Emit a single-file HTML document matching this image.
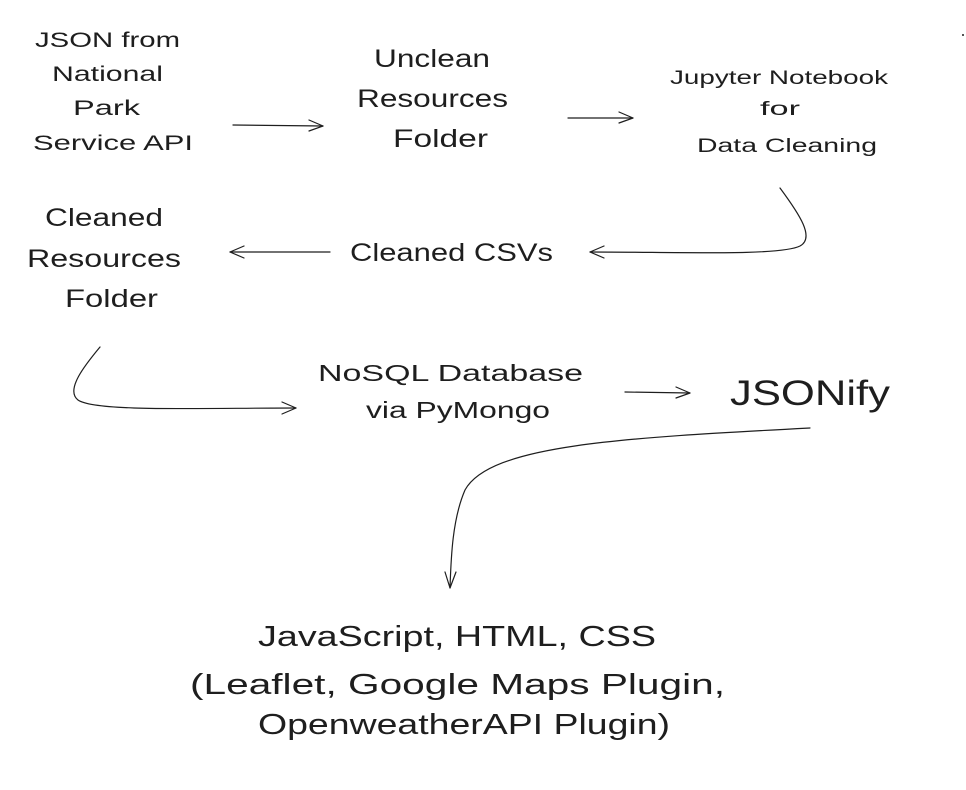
<!DOCTYPE html>
<html><head><meta charset="utf-8"><style>
html,body{margin:0;padding:0;background:#fff;}
svg{display:block;}
text{font-family:"Liberation Sans","DejaVu Sans",sans-serif;fill:#1e1e1e;}
</style></head><body>
<svg width="966" height="790" viewBox="0 0 966 790" xmlns="http://www.w3.org/2000/svg">
<g fill="none" stroke="#1e1e1e" stroke-width="1.2" stroke-linecap="round">
<path d="M233,125 L323,126"/><path d="M323,126 L309,120 M323,126 L309,131"/>
<path d="M568,118 L633,118"/><path d="M633,118 L619,112 M633,118 L619,123"/>
<path d="M780,188 C800,215 815,238 800,246 C780,256 680,252 590,252"/><path d="M590,252 L604,246 M590,252 L604,258"/>
<path d="M330,252 L230,252"/><path d="M230,252 L244,246 M230,252 L244,258"/>
<path d="M100,347 C85,365 65,390 78,400 C95,412 200,408 296,408"/><path d="M296,408 L282,402 M296,408 L282,414"/>
<path d="M625,392 L690,393"/><path d="M690,393 L676,387 M690,393 L676,398"/>
<path d="M810,428 C620,438 490,445 465,490 C452,520 451,560 450,588"/><path d="M450,588 L445,572 M450,588 L456,572"/>
</g>
<circle cx="963" cy="35" r="1" fill="#1e1e1e"/>
<g font-size="21">
<text x="35" y="47" textLength="145" lengthAdjust="spacingAndGlyphs">JSON from</text>
<text x="52" y="81" textLength="111" lengthAdjust="spacingAndGlyphs">National</text>
<text x="73" y="115" textLength="67" lengthAdjust="spacingAndGlyphs">Park</text>
<text x="33" y="150" textLength="160" lengthAdjust="spacingAndGlyphs">Service API</text>
</g>
<g font-size="25">
<text x="374" y="67" textLength="116" lengthAdjust="spacingAndGlyphs">Unclean</text>
<text x="357" y="107" textLength="151" lengthAdjust="spacingAndGlyphs">Resources</text>
<text x="393" y="147" textLength="95" lengthAdjust="spacingAndGlyphs">Folder</text>
</g>
<g font-size="19">
<text x="670" y="84" textLength="218" lengthAdjust="spacingAndGlyphs">Jupyter Notebook</text>
<text x="760" y="115" textLength="40" lengthAdjust="spacingAndGlyphs">for</text>
<text x="697" y="152" textLength="180" lengthAdjust="spacingAndGlyphs">Data Cleaning</text>
</g>
<text x="350" y="261" font-size="25" textLength="203" lengthAdjust="spacingAndGlyphs">Cleaned CSVs</text>
<g font-size="25">
<text x="45" y="226" textLength="118" lengthAdjust="spacingAndGlyphs">Cleaned</text>
<text x="27" y="267" textLength="154" lengthAdjust="spacingAndGlyphs">Resources</text>
<text x="65" y="307" textLength="93" lengthAdjust="spacingAndGlyphs">Folder</text>
</g>
<g font-size="23">
<text x="318" y="381" textLength="265" lengthAdjust="spacingAndGlyphs">NoSQL Database</text>
<text x="366" y="418" textLength="184" lengthAdjust="spacingAndGlyphs">via PyMongo</text>
</g>
<text x="730" y="405" font-size="35" textLength="160" lengthAdjust="spacingAndGlyphs">JSONify</text>
<g font-size="29">
<text x="258" y="646" textLength="398" lengthAdjust="spacingAndGlyphs">JavaScript, HTML, CSS</text>
<text x="190" y="694" textLength="535" lengthAdjust="spacingAndGlyphs">(Leaflet, Google Maps Plugin,</text>
<text x="258" y="734" textLength="412" lengthAdjust="spacingAndGlyphs">OpenweatherAPI Plugin)</text>
</g>
</svg>
</body></html>
